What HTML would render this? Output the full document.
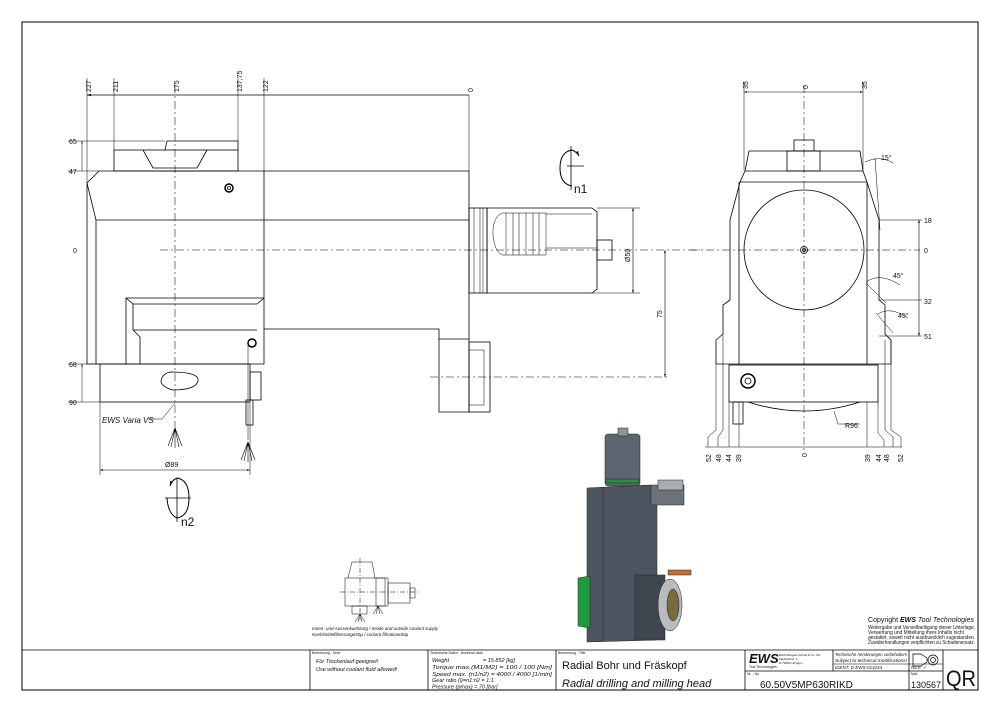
<!DOCTYPE html>
<html><head><meta charset="utf-8"><style>
html,body{margin:0;padding:0;background:#fff}
svg{display:block}
text{font-family:"Liberation Sans",sans-serif;fill:#111}
.n{font-family:"DejaVu Sans Condensed","Liberation Sans",sans-serif}
</style></head><body>
<svg width="1000" height="715" viewBox="0 0 1000 715" xmlns="http://www.w3.org/2000/svg">
<defs>
<marker id="a" viewBox="0 0 10 10" refX="10" refY="5" markerWidth="5" markerHeight="5" orient="auto-start-reverse"><path d="M0,2 L10,5 L0,8 z" fill="#000"/></marker>
</defs>
<rect x="22" y="22" width="956" height="668" fill="none" stroke="#000" stroke-width="1"/>
<g stroke="#000" fill="none" stroke-width="0.8">
<line x1="87" y1="95" x2="469" y2="95" marker-start="url(#a)"/>
<g stroke-width="0.5">
<line x1="87" y1="78" x2="87" y2="183"/><line x1="114" y1="78" x2="114" y2="150"/>
<line x1="238" y1="78" x2="238" y2="141"/><line x1="264" y1="78" x2="264" y2="171"/>
<line x1="469" y1="95" x2="469" y2="171"/>
<line x1="68" y1="141" x2="165" y2="141"/><line x1="68" y1="171" x2="99" y2="171"/>
<line x1="68" y1="364" x2="100" y2="364"/><line x1="68" y1="402" x2="100" y2="402"/>
<line x1="82" y1="141" x2="82" y2="171" marker-start="url(#a)"/>
<line x1="82" y1="364" x2="82" y2="402" marker-start="url(#a)"/>
</g>
<line x1="175" y1="85" x2="175" y2="430" stroke-width="0.5" stroke-dasharray="8 3 2 3"/>
<line x1="160" y1="250" x2="700" y2="250" stroke-width="0.5" stroke-dasharray="8 3 2 3"/>
<line x1="430" y1="377" x2="668" y2="377" stroke-width="0.5" stroke-dasharray="8 3 2 3"/>
<rect x="114" y="150" width="124" height="21"/>
<path d="M165,150 L167,141 L238,141 L238,150"/>
<path d="M143,150 L153,168 L197,168 L207,150"/>
<path d="M99,171 L469,171 L469,412 L439,412 L439,329 L264,329 L264,364 L87,364 L87,183 Z"/>
<path d="M87,183 L96,220 L96,364"/>
<line x1="96" y1="220" x2="469" y2="220"/>
<line x1="264" y1="171" x2="264" y2="329"/>
<path d="M126,364 L126,298 L264,298 M126,298 L133,304 L257,304 L264,298 M133,304 L133,330 L140,337 L140,364 M133,330 L257,330"/>
<circle cx="229" cy="188" r="4" stroke-width="1.5"/><circle cx="229" cy="188" r="1.5"/>
<circle cx="252" cy="343" r="4" stroke-width="1.5"/>
<line x1="439" y1="339" x2="469" y2="339"/>
<rect x="469" y="342" width="21" height="70"/>
<rect x="469" y="350" width="15" height="55" stroke-width="0.5"/>
<rect x="100" y="364" width="150" height="38"/>
<path d="M170,372 Q200,372 198,381 Q196,390 172,390 Q161,386 161,381 Q162,374 170,372 Z"/>
<rect x="250" y="372" width="11" height="28"/><rect x="246" y="400" width="7" height="25"/>
<line x1="248" y1="345" x2="248" y2="440" stroke-width="0.5"/>
<rect x="469" y="208" width="18" height="85"/>
<line x1="474" y1="208" x2="474" y2="293" stroke-width="0.5"/><line x1="480" y1="208" x2="480" y2="293" stroke-width="0.5"/><line x1="483" y1="208" x2="483" y2="293" stroke-width="0.5"/>
<path d="M487,208 L592,208 L597,212 L597,289 L592,293 L487,293 Z"/>
<path d="M502,213 Q492,218 493,236 Q495,252 502,255 L546,255 L546,213 Z" stroke-width="0.5"/>
<path d="M506,213 L506,255 M513,213 L513,255 M519,213 L519,255 M526,213 L526,255 M533,213 L533,255 M539,213 L539,255" stroke-width="0.5"/>
<line x1="546" y1="248" x2="597" y2="248" stroke-width="0.5"/><line x1="546" y1="214" x2="592" y2="214" stroke-width="0.5"/>
<rect x="597" y="240" width="15" height="20"/>
<line x1="597" y1="208" x2="640" y2="208" stroke-width="0.5"/><line x1="592" y1="293" x2="640" y2="293" stroke-width="0.5"/>
<line x1="633" y1="208" x2="633" y2="293" marker-start="url(#a)" marker-end="url(#a)" stroke-width="0.6"/>
<line x1="665" y1="250" x2="665" y2="377" marker-start="url(#a)" marker-end="url(#a)" stroke-width="0.6"/>
<path d="M572,150 Q560,152 560,168 Q560,184 572,186" stroke-width="1"/>
<path d="M572,150 Q577,152 579,156" marker-end="url(#a)" stroke-width="1"/>
<line x1="567" y1="166" x2="584" y2="166" stroke-width="0.8"/><line x1="571" y1="146" x2="571" y2="190" stroke-width="0.8"/>
<line x1="100" y1="402" x2="100" y2="475" stroke-width="0.5"/><line x1="250" y1="402" x2="250" y2="475" stroke-width="0.5"/>
<line x1="100" y1="470" x2="250" y2="470" marker-start="url(#a)" marker-end="url(#a)" stroke-width="0.6"/>
<path d="M175,403 L162,419 L148,419" stroke-width="0.5"/>
<path d="M175,428 L168,446 M175,428 L171,447 M175,428 L175,448 M175,428 L179,447 M175,428 L182,446" stroke-width="0.6"/>
<path d="M248,442 L241,460 M248,442 L244,461 M248,442 L248,462 M248,442 L252,461 M248,442 L255,460" stroke-width="0.6"/>
<path d="M177,478 Q189,480 189,498 Q189,516 177,518 Q168,514 167,498" stroke-width="1"/>
<path d="M177,478 Q172,480 170,486" marker-end="url(#a)" stroke-width="1"/>
<line x1="165" y1="498" x2="191" y2="498" stroke-width="0.8"/><line x1="177" y1="478" x2="177" y2="522" stroke-width="0.8"/>
<line x1="744" y1="92" x2="863" y2="92" marker-start="url(#a)" marker-end="url(#a)" stroke-width="0.6"/>
<line x1="744" y1="82" x2="744" y2="170" stroke-width="0.5"/><line x1="863" y1="82" x2="863" y2="170" stroke-width="0.5"/>
<line x1="804" y1="85" x2="804" y2="450" stroke-width="0.5" stroke-dasharray="8 3 2 3"/>
<line x1="690" y1="250" x2="920" y2="250" stroke-width="0.5" stroke-dasharray="8 3 2 3"/>
<path d="M749,151 L860,151 L863,171 L745,171 Z"/>
<rect x="794" y="140" width="20" height="11"/><rect x="787" y="151" width="33" height="20"/>
<path d="M745,171 L740,182 L730,220 L730,300 L723,305 L723,334 L716,340 L716,364 M863,171 L867,182 L879,220 L879,300 L885,305 L885,334 L891,340 L891,364"/>
<line x1="739" y1="182" x2="739" y2="364"/><line x1="867" y1="182" x2="867" y2="364"/>
<line x1="740" y1="182" x2="867" y2="182"/>
<line x1="716" y1="364" x2="891" y2="364"/>
<circle cx="804" cy="250" r="60"/>
<circle cx="804" cy="250" r="3.5"/><circle cx="804" cy="250" r="1.5"/>
<rect x="729" y="365" width="149" height="37"/>
<circle cx="748" cy="381" r="7" stroke-width="1.5"/><circle cx="748" cy="381" r="3"/>
<rect x="733" y="402" width="10" height="22"/>
<path d="M748,402 Q804,420 860,402"/>
<path d="M834,411 L838,424 L860,424" stroke-width="0.5"/>
<path d="M879,220 L922,220 M879,300 L922,300 M879,336 L922,336" stroke-width="0.5"/>
<line x1="919" y1="220" x2="919" y2="336" marker-start="url(#a)" marker-end="url(#a)" stroke-width="0.6"/>
<path d="M875,158 L880,230" stroke-width="0.5"/>
<path d="M865,162 Q880,155 893,163" stroke-width="0.5"/>
<path d="M866,282 Q880,272 900,285 M878,314 Q890,306 908,318" stroke-width="0.5"/>
<path d="M866,283 L886,303 M876,313 L893,333" stroke-width="0.5"/>
<g stroke-width="0.5">
<line x1="705" y1="447" x2="902" y2="447"/>
<path d="M716,364 L716,430 L708,437 L708,447 M723,334 L723,430 L718,437 L718,447 M729,402 L729,447 M739,402 L739,447 M867,402 L867,447 M878,402 L878,433 L884,440 L884,447 M885,340 L885,430 L893,437 L893,447 M891,340 L891,430 L901,437 L901,447"/>
</g>
</g>
<g stroke="#222" stroke-width="0.5">
<rect x="605" y="434" width="35" height="52" rx="3" fill="#5d6670"/>
<rect x="618" y="428" width="10" height="8" fill="#8a939a"/>
<rect x="606" y="479" width="33" height="4" fill="#2e8a45"/>
<path d="M587,488 L650,485 L657,487 L657,640 L587,642 Z" fill="#4d5660"/>
<path d="M603,488 L603,642" />
<rect x="651" y="485" width="33" height="20" fill="#6a737b"/>
<rect x="658" y="480" width="25" height="10" fill="#a9adb0"/>
<rect x="635" y="575" width="30" height="65" fill="#3e464f"/>
<path d="M578,578 L590,576 L590,628 L578,626 Z" fill="#1f9a3c"/>
<ellipse cx="670" cy="605" rx="12" ry="26" fill="#b8bcbe"/>
<ellipse cx="673" cy="605" rx="6" ry="16" fill="#7a6a40"/>
<rect x="668" y="570" width="23" height="5" fill="#c0703a"/>
</g>
<g stroke="#000" fill="none" stroke-width="0.5">
<path d="M348,578 L352,562 L372,562 L375,578"/>
<rect x="345" y="578" width="40" height="28"/><rect x="376" y="578" width="12" height="28"/>
<rect x="388" y="583" width="22" height="20"/><rect x="410" y="588" width="5" height="10"/>
<rect x="352" y="606" width="15" height="8"/>
<line x1="340" y1="592" x2="420" y2="592" stroke-dasharray="5 2 1 2"/>
<line x1="360" y1="558" x2="360" y2="620" stroke-dasharray="5 2 1 2"/>
<path d="M360,614 L355,622 M360,614 L358,622 M360,614 L362,622 M360,614 L365,622 M378,606 L373,614 M378,606 L376,614 M378,606 L380,614 M378,606 L383,614"/>
</g>
<text x="312" y="630" font-size="4.5" font-style="italic">Innen- und Aussenkuehlung / Inside and outside coolant supply</text>
<text x="312" y="636" font-size="4.5" font-style="italic">Kuehlmittelfiltrierung≤50µ / coolant filtration≤50µ</text>
<g font-size="7" class="n">
<text transform="translate(91,92) rotate(-90)">227</text>
<text transform="translate(118,92) rotate(-90)">211</text>
<text transform="translate(179,92) rotate(-90)">175</text>
<text transform="translate(242,92) rotate(-90)">137,75</text>
<text transform="translate(268,92) rotate(-90)">122</text>
<text transform="translate(473,92) rotate(-90)">0</text>
<text x="69" y="144">65</text><text x="69" y="174">47</text><text x="73" y="253">0</text>
<text x="69" y="367">68</text><text x="69" y="405">90</text>
<text transform="translate(630,262) rotate(-90)">Ø50</text>
<text transform="translate(662,318) rotate(-90)">75</text>
<text x="165" y="467">Ø89</text>
<text transform="translate(748,89) rotate(-90)">35</text>
<text transform="translate(808,89) rotate(-90)">0</text>
<text transform="translate(867,89) rotate(-90)">35</text>
<text x="924" y="223">18</text><text x="924" y="253">0</text><text x="924" y="304">32</text><text x="924" y="339">51</text>
<text x="881" y="160">15°</text><text x="893" y="278">45°</text><text x="898" y="318">45°</text>
<text x="845" y="428">R96</text>
<text transform="translate(711,462) rotate(-90)">52</text>
<text transform="translate(721,462) rotate(-90)">48</text>
<text transform="translate(731,462) rotate(-90)">44</text>
<text transform="translate(741,462) rotate(-90)">39</text>
<text transform="translate(807,457) rotate(-90)">0</text>
<text transform="translate(870,462) rotate(-90)">39</text>
<text transform="translate(881,462) rotate(-90)">44</text>
<text transform="translate(889,462) rotate(-90)">48</text>
<text transform="translate(903,462) rotate(-90)">52</text>
</g>
<text x="574" y="193" font-size="12">n1</text>
<text x="181" y="526" font-size="12">n2</text>
<text x="102" y="423" font-size="8" font-style="italic">EWS Varia VS</text>
<text x="868" y="622" font-size="7.5" textLength="106" lengthAdjust="spacingAndGlyphs">Copyright <tspan font-weight="bold" font-style="italic">EWS</tspan> <tspan font-style="italic">Tool Technologies</tspan></text>
<g font-size="5">
<text x="868" y="629" textLength="107" lengthAdjust="spacingAndGlyphs">Weitergabe und Vervielfaeltigung dieser Unterlage,</text>
<text x="868" y="634" textLength="96" lengthAdjust="spacingAndGlyphs">Verwertung und Mitteilung ihres Inhalts nicht</text>
<text x="868" y="639" textLength="107" lengthAdjust="spacingAndGlyphs">gestattet, soweit nicht ausdruecklich zugestanden.</text>
<text x="868" y="644" textLength="107" lengthAdjust="spacingAndGlyphs">Zuwiderhandlungen verpflichten zu Schadenersatz.</text>
</g>
<g stroke="#000" fill="none" stroke-width="0.8">
<line x1="22" y1="650" x2="978" y2="650"/>
<line x1="310" y1="650" x2="310" y2="690"/><line x1="428" y1="650" x2="428" y2="690"/>
<line x1="556" y1="650" x2="556" y2="690"/><line x1="745" y1="650" x2="745" y2="690"/>
<line x1="943" y1="650" x2="943" y2="690"/>
<line x1="833" y1="650" x2="833" y2="671"/><line x1="909" y1="650" x2="909" y2="690"/>
<line x1="745" y1="671" x2="943" y2="671"/><line x1="833" y1="664" x2="943" y2="664" stroke-width="0.5"/>
<path d="M913,654 L921,654 L927,658 L927,662 L921,666 L913,666 Z" stroke-width="0.7"/>
<circle cx="933" cy="660" r="5" stroke-width="0.7"/><circle cx="933" cy="660" r="2.5" stroke-width="0.7"/>
</g>
<g font-size="3.5"><text x="312" y="654">Bemerkung - Note</text><text x="430" y="654">Technische Daten - technical data</text><text x="558" y="654">Benennung - Title</text><text x="747" y="675">Nr. - No</text><text x="911" y="675">Mat.</text></g>
<g font-size="5.5" font-style="italic">
<text x="316" y="663">Für Trockenlauf geeignet!</text>
<text x="316" y="671">Use without coolant fluid allowed!</text>
<text x="432" y="662">Weight</text><text x="483" y="662">= 15.852 [kg]</text>
<text x="432" y="669" textLength="120" lengthAdjust="spacingAndGlyphs">Torque max.(M1/M2) = 100 / 100 [Nm]</text>
<text x="432" y="676" textLength="120" lengthAdjust="spacingAndGlyphs">Speed max. (n1/n2) = 4000 / 4000 [1/min]</text>
<text x="432" y="682">Gear ratio (i)=n1:n2 = 1:1</text>
<text x="432" y="688.5">Pressure (pmax) = 70 [bar]</text>
</g>
<text x="562" y="669" font-size="11">Radial Bohr und Fräskopf</text>
<text x="562" y="687" font-size="11" font-style="italic">Radial drilling and milling head</text>
<text x="749" y="663" font-size="13" font-weight="bold" font-style="italic">EWS</text>
<text x="749" y="668" font-size="3.5">Tool Technologies</text>
<g font-size="3"><text x="779" y="656">EWS Weigele GmbH &amp; Co. KG</text><text x="779" y="660">Maybachstr. 1</text><text x="779" y="664">D-73066 Uhingen</text></g>
<g font-size="4.5" font-style="italic"><text x="835" y="656" textLength="72" lengthAdjust="spacingAndGlyphs">Technische Aenderungen vorbehalten!</text><text x="835" y="662" textLength="72" lengthAdjust="spacingAndGlyphs">Subject to technical modifications!</text><text x="835" y="669">IDENT: D-EWS-014244</text><text x="911" y="669">REV: -/-</text></g>
<text x="760" y="688" font-size="10">60.50V5MP630RIKD</text>
<text x="911" y="688" font-size="9" textLength="30" lengthAdjust="spacingAndGlyphs">130567</text>
<text x="946" y="686" font-size="22" textLength="30" lengthAdjust="spacingAndGlyphs">QR</text>
</svg>
</body></html>
